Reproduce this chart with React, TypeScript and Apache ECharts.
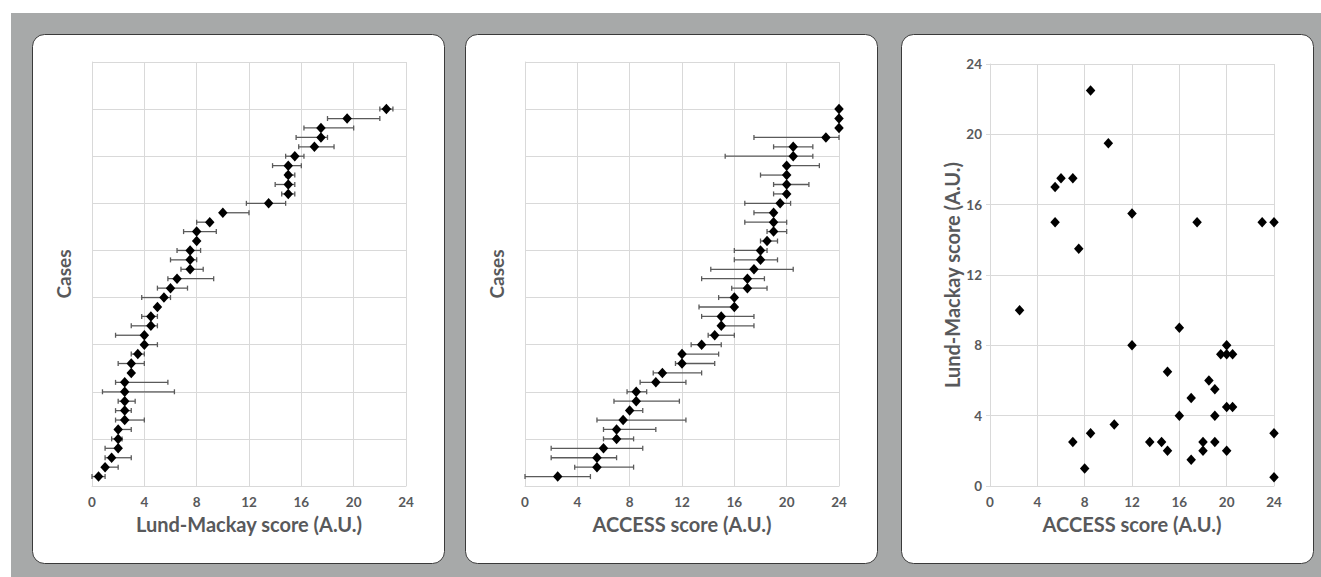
import React, { useEffect, useRef } from "react";
import * as echarts from "echarts";

// ---------- data ----------
const caseNumbers = [
  1, 2, 3, 4, 5, 6, 7, 8, 9, 10, 11, 12, 13, 14, 15, 16, 17, 18, 19, 20,
  21, 22, 23, 24, 25, 26, 27, 28, 29, 30, 31, 32, 33, 34, 35, 36, 37, 38, 39, 40,
];

// Panel 1: Lund-Mackay score per case (sorted), with error range
const lmValues = [
  0.5, 1, 1.5, 2, 2, 2, 2.5, 2.5, 2.5, 2.5, 2.5, 3, 3, 3.5, 4, 4, 4.5, 4.5, 5, 5.5,
  6, 6.5, 7.5, 7.5, 7.5, 8, 8, 9, 10, 13.5, 15, 15, 15, 15, 15.5, 17, 17.5, 17.5, 19.5, 22.5,
];
const lmLow = [
  0, 1, 1, 1, 1.5, 2, 1.8, 1.8, 2, 0.8, 1.8, 3, 2, 3, 4, 1.8, 3, 3.8, 5, 3.8,
  5, 5.8, 6.8, 6, 6.5, 8, 7, 8, 10, 11.8, 14.5, 14, 14.8, 13.8, 14.8, 15.8, 15.6, 16.2, 18, 22,
];
const lmHigh = [
  1, 2, 3, 2, 2.3, 3, 4, 3, 3.3, 6.3, 5.8, 3, 4, 4, 5, 4, 5, 5, 5, 6,
  7.3, 9.3, 8.5, 8, 8.3, 8, 9.5, 9, 12, 14.8, 15.5, 15.5, 15.5, 16, 16.2, 18.5, 18, 20, 22, 23,
];

// Panel 2: ACCESS score per case (sorted), with error range
const acValues = [
  2.5, 5.5, 5.5, 6, 7, 7, 7.5, 8, 8.5, 8.5, 10, 10.5, 12, 12, 13.5, 14.5, 15, 15, 16, 16,
  17, 17, 17.5, 18, 18, 18.5, 19, 19, 19, 19.5, 20, 20, 20, 20, 20.5, 20.5, 23, 24, 24, 24,
];
const acLow = [
  0, 3.8, 2, 2, 6, 6, 5.5, 8, 6.8, 7.8, 8.8, 9.8, 11.5, 12, 12.7, 14, 15, 13.5, 13.3, 14.8,
  15.8, 13.5, 14.2, 16, 16, 18, 18.5, 16.8, 17.5, 16.8, 19, 19, 18, 20, 15.3, 19, 17.5, 24, 24, 24,
];
const acHigh = [
  5, 8.3, 7, 9, 8.3, 10, 12.3, 9, 11.8, 9.3, 12.3, 13.5, 14.5, 14.8, 15, 16, 17.5, 17.5, 16, 16,
  18.5, 18.3, 20.5, 19.3, 18.5, 19.3, 20, 20, 19, 20.3, 20, 21.7, 20, 22.5, 22, 22, 24, 24, 24, 24,
];

// Panel 3: ACCESS vs Lund-Mackay
const scatterAccess = [
  8.5, 10, 6, 7, 5.5, 12, 5.5, 17.5, 23, 24, 7.5, 2.5, 16, 12, 20, 19.5, 20, 20.5, 15, 18.5,
  19, 17, 20, 20.5, 16, 19, 10.5, 8.5, 24, 7, 13.5, 14.5, 18, 19, 15, 18, 20, 17, 8, 24,
];
const scatterLM = [
  22.5, 19.5, 17.5, 17.5, 17, 15.5, 15, 15, 15, 15, 13.5, 10, 9, 8, 8, 7.5, 7.5, 7.5, 6.5, 6,
  5.5, 5, 4.5, 4.5, 4, 4, 3.5, 3, 3, 2.5, 2.5, 2.5, 2.5, 2.5, 2, 2, 2, 1.5, 1, 0.5,
];

const scoreTicks = [0, 4, 8, 12, 16, 20, 24];

// ---------- styles ----------
const FONT = "Lato";
const TXT = "#58595b";
const GRID = "#d9d9d9";
const BAR = "#5a5a5a";

function errorRender(params: any, api: any) {
  const y = api.value(2);
  const a = api.coord([api.value(0), y]);
  const b = api.coord([api.value(1), y]);
  const h = 2.5;
  const style = { stroke: BAR, lineWidth: 1.3 };
  return {
    type: "group",
    children: [
      { type: "line", shape: { x1: a[0], y1: a[1], x2: b[0], y2: b[1] }, style },
      { type: "line", shape: { x1: a[0], y1: a[1] - h, x2: a[0], y2: a[1] + h }, style },
      { type: "line", shape: { x1: b[0], y1: b[1] - h, x2: b[0], y2: b[1] + h }, style },
    ],
  };
}

function scoreAxis(gridIndex: number, name: string) {
  return {
    type: "value",
    gridIndex,
    min: scoreTicks[0],
    max: scoreTicks[scoreTicks.length - 1],
    interval: 4,
    name,
    nameLocation: "middle",
    nameGap: 28,
    nameTextStyle: { fontFamily: FONT, fontWeight: "bold", fontSize: 20, color: TXT },
    axisLine: { show: true, lineStyle: { color: GRID, width: 1 } },
    axisTick: { show: false },
    axisLabel: { fontFamily: FONT, fontWeight: "bold", fontSize: 13.5, color: TXT, margin: 9 },
    splitLine: { show: true, lineStyle: { color: GRID, width: 1 } },
  };
}

function caseAxis(gridIndex: number) {
  return {
    type: "value",
    gridIndex,
    min: 0,
    max: 45,
    interval: 5,
    name: "Cases",
    nameLocation: "middle",
    nameGap: 19,
    nameTextStyle: { fontFamily: FONT, fontWeight: "bold", fontSize: 19, color: TXT },
    axisLine: { show: true, lineStyle: { color: GRID, width: 1 } },
    axisTick: { show: false },
    axisLabel: { show: false },
    splitLine: { show: true, lineStyle: { color: GRID, width: 1 } },
  };
}

function panelRect(x: number, w: number) {
  return {
    type: "rect",
    z: -50,
    shape: { x: x + 0.5, y: 34.5, width: w, height: 529, r: 12 },
    style: { fill: "#ffffff", stroke: "#3a3a3a", lineWidth: 1 },
  };
}

export default function App() {
  const ref = useRef<HTMLDivElement>(null);

  useEffect(() => {
    if (!ref.current) return;
    const chart = echarts.init(ref.current, null, { renderer: "svg" });

    const lmPoints = caseNumbers.map((c, i) => [lmValues[i], c]);
    const acPoints = caseNumbers.map((c, i) => [acValues[i], c]);
    const lmErr = caseNumbers
      .map((c, i) => [lmLow[i], lmHigh[i], c])
      .filter((d) => d[0] !== d[1]);
    const acErr = caseNumbers
      .map((c, i) => [acLow[i], acHigh[i], c])
      .filter((d) => d[0] !== d[1]);
    const scatterPoints = scatterAccess.map((x, i) => [x, scatterLM[i]]);

    const diamond = {
      symbol: "diamond",
      symbolSize: [9.5, 10.5],
      itemStyle: { color: "#000000", opacity: 1 },
    };

    chart.setOption({
      animation: false,
      graphic: [
        {
          type: "rect",
          z: -100,
          shape: { x: 11, y: 13, width: 1310, height: 564 },
          style: { fill: "#a7a9a9" },
        },
        panelRect(32, 412),
        panelRect(465, 412),
        panelRect(901, 412),
      ],
      grid: [
        { left: 92, top: 62, width: 314, height: 424 },
        { left: 525, top: 62, width: 314, height: 424 },
        { left: 990, top: 64, width: 284, height: 422 },
      ],
      xAxis: [
        scoreAxis(0, "Lund-Mackay score (A.U.)"),
        scoreAxis(1, "ACCESS score (A.U.)"),
        scoreAxis(2, "ACCESS score (A.U.)"),
      ],
      yAxis: [
        caseAxis(0),
        caseAxis(1),
        {
          ...scoreAxis(2, "Lund-Mackay score (A.U.)"),
          nameGap: 27,
          axisTick: { show: true, length: 4, lineStyle: { color: GRID } },
          axisLabel: { fontFamily: FONT, fontWeight: "bold", fontSize: 13.5, color: TXT, margin: 8 },
        },
      ],
      series: [
        {
          type: "custom",
          xAxisIndex: 0,
          yAxisIndex: 0,
          renderItem: errorRender,
          encode: { x: [0, 1], y: 2 },
          data: lmErr,
          z: 1,
        },
        { type: "scatter", xAxisIndex: 0, yAxisIndex: 0, data: lmPoints, z: 3, ...diamond },
        {
          type: "custom",
          xAxisIndex: 1,
          yAxisIndex: 1,
          renderItem: errorRender,
          encode: { x: [0, 1], y: 2 },
          data: acErr,
          z: 1,
        },
        { type: "scatter", xAxisIndex: 1, yAxisIndex: 1, data: acPoints, z: 3, ...diamond },
        { type: "scatter", xAxisIndex: 2, yAxisIndex: 2, data: scatterPoints, z: 3, ...diamond },
      ],
    });

    return () => chart.dispose();
  }, []);

  return (
    <div
      ref={ref}
      style={{ position: "fixed", left: 0, top: 0, width: 1321, height: 577, background: "#ffffff" }}
    />
  );
}
